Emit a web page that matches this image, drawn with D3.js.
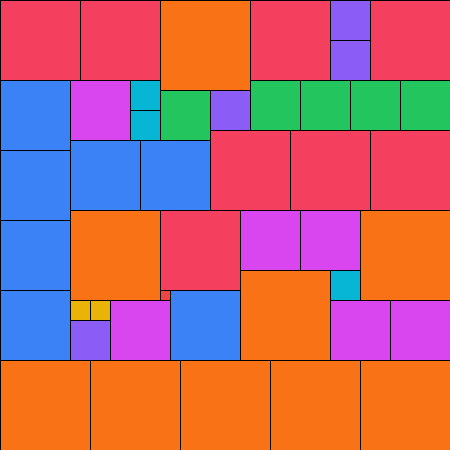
<!DOCTYPE html>
<html>
<head>
<meta charset="utf-8">
<script src="https://cdn.jsdelivr.net/npm/d3@7"></script>
<style>
  body { margin: 0; background: #fff; }
</style>
</head>
<body>
<div id="chart"></div>
<script>
// square sizes and their grid positions (in units of the 45x45 board)
var sizes = [9, 9, 9, 9, 9, 9, 9, 9, 9,
             8, 8, 8, 8, 8, 8, 8, 8,
             7, 7, 7, 7, 7, 7, 7,
             6, 6, 6, 6, 6, 6,
             5, 5, 5, 5, 5,
             4, 4, 4, 4,
             3, 3, 3,
             2, 2,
             1];
var xs = [16, 7, 36, 24, 0, 9, 18, 27, 36,
          0, 8, 25, 37, 21, 29, 37, 16,
          0, 0, 0, 0, 7, 14, 17,
          7, 24, 30, 11, 33, 39,
          16, 25, 30, 35, 40,
          33, 33, 21, 7,
          13, 13, 33,
          7, 9,
          16];
var ys = [0, 21, 21, 27, 36, 36, 36, 36, 36,
          0, 0, 0, 0, 13, 13, 13, 21,
          8, 15, 22, 29, 14, 14, 29,
          8, 21, 21, 30, 30, 30,
          9, 8, 8, 8, 8,
          0, 4, 9, 32,
          8, 11, 27,
          30, 30,
          29];
var sizeKeys = [1, 2, 3, 4, 5, 6, 7, 8, 9];
var sizeColors = ["#ef4444", "#eab308", "#06b6d4", "#8b5cf6", "#22c55e",
                  "#d946ef", "#3b82f6", "#f43f5e", "#f97316"];

var width = 450, height = 450;

var svg = d3.select("#chart")
    .append("svg")
    .attr("width", width)
    .attr("height", height);

var x = d3.scaleLinear().domain([0, 45]).range([0, width]);
var y = d3.scaleLinear().domain([0, 45]).range([0, height]);
var color = d3.scaleOrdinal().domain(sizeKeys).range(sizeColors);

var squares = sizes.map(function (s, i) { return { size: s, x: xs[i], y: ys[i] }; });

svg.append("g")
    .attr("transform", "translate(0.5,0.5)")
    .selectAll("rect")
    .data(squares)
    .enter()
    .append("rect")
    .attr("x", function (d) { return x(d.x); })
    .attr("y", function (d) { return y(d.y); })
    .attr("width", function (d) { return x(d.size) - x(0); })
    .attr("height", function (d) { return y(d.size) - y(0); })
    .style("fill", function (d) { return color(d.size); })
    .style("stroke", "#000")
    .style("stroke-width", 1);
</script>
</body>
</html>
